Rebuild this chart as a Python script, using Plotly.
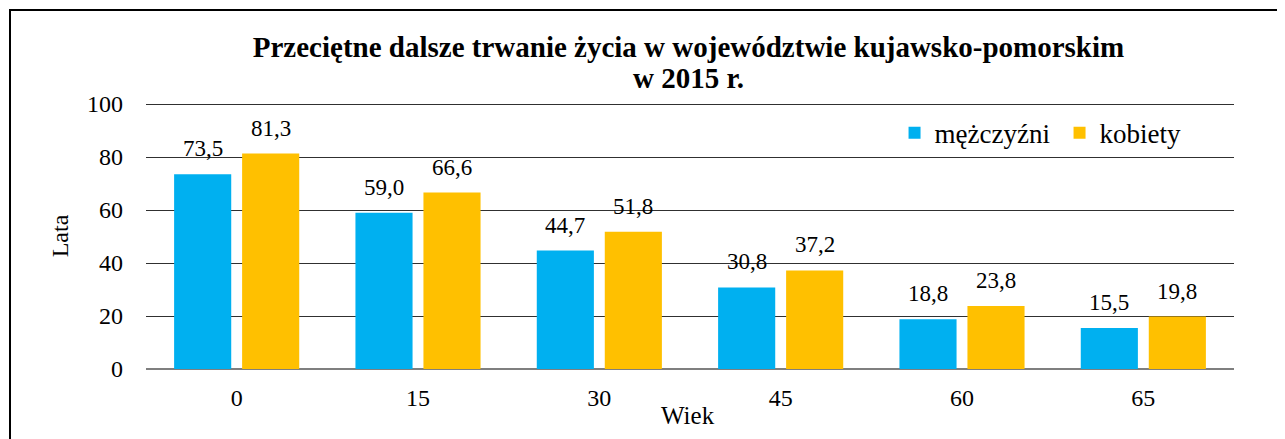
import plotly.graph_objects as go

ages = ["0", "15", "30", "45", "60", "65"]
men = [73.5, 59.0, 44.7, 30.8, 18.8, 15.5]
women = [81.3, 66.6, 51.8, 37.2, 23.8, 19.8]
series_names = ["mężczyźni", "kobiety"]
colors = ["#00B0F0", "#FFC000"]
yticks = [0, 20, 40, 60, 80, 100]
title_lines = ["Przeciętne dalsze trwanie życia w województwie kujawsko-pomorskim", "w 2015 r."]
x_title = "Wiek"
y_title = "Lata"

FONT = "Liberation Serif"

fig = go.Figure()
for name, vals, col in zip(series_names, [men, women], colors):
    fig.add_trace(go.Bar(x=ages, y=vals, name=name, marker=dict(color=col, line=dict(width=0))))

annotations = []
for vals, xs in zip([men, women], [-34, 34]):
    for i, v in enumerate(vals):
        annotations.append(dict(x=i, y=v, xref="x", yref="y", text=f"{v:.1f}".replace(".", ","),
                                showarrow=False, xshift=xs, yanchor="bottom", yshift=11,
                                font=dict(family=FONT, size=23, color="black")))
annotations.append(dict(x=0.4986, y=1.094, xref="paper", yref="paper", text=f"<b>{title_lines[1]}</b>",
                        showarrow=False, xanchor="center", yanchor="middle",
                        font=dict(family=FONT, size=29, color="black")))
annotations.append(dict(x=0.4986, y=-0.173, xref="paper", yref="paper", text=x_title,
                        showarrow=False, xanchor="center", yanchor="middle",
                        font=dict(family=FONT, size=25, color="black")))

fig.update_layout(
    width=1277, height=431,
    margin=dict(l=138, r=51, t=95, b=70, autoexpand=False),
    paper_bgcolor="white", plot_bgcolor="white",
    font=dict(family=FONT, color="black"),
    title=dict(text=f"<b>{title_lines[0]}</b>",
               x=0.5329, xanchor="center", y=0.9095, yanchor="middle", xref="container", yref="container",
               font=dict(family=FONT, size=29, color="black")),
    barmode="group", bargap=0.25, bargroupgap=0.16,
    showlegend=True,
    legend=dict(orientation="h", x=0.688, y=0.8865, xanchor="left", yanchor="middle",
                font=dict(family=FONT, size=27, color="black"), bgcolor="rgba(0,0,0,0)",
                traceorder="normal", entrywidth=120, entrywidthmode="pixels"),
    annotations=annotations,
    xaxis=dict(type="category", range=[-0.5, len(ages) - 0.5], autorange=False, automargin=False,
               tickfont=dict(family=FONT, size=24), showgrid=False, showline=False,
               ticks="", ticklabelstandoff=12),
    yaxis=dict(title=dict(text=y_title, font=dict(family=FONT, size=24), standoff=11),
               range=[0, 100.4], autorange=False, automargin=False,
               tickvals=yticks, tickfont=dict(family=FONT, size=24),
               showgrid=True, gridcolor="#303030", gridwidth=1,
               zeroline=True, zerolinecolor="#7f7f7f", zerolinewidth=2,
               ticks="", ticklabelstandoff=22),
    shapes=[dict(type="rect", xref="paper", yref="paper", x0=-0.125, x1=1.2, y0=-0.5, y1=1.3496,
                 line=dict(color="black", width=2), fillcolor="rgba(0,0,0,0)", layer="below")],
)

fig.write_html("out.html")
